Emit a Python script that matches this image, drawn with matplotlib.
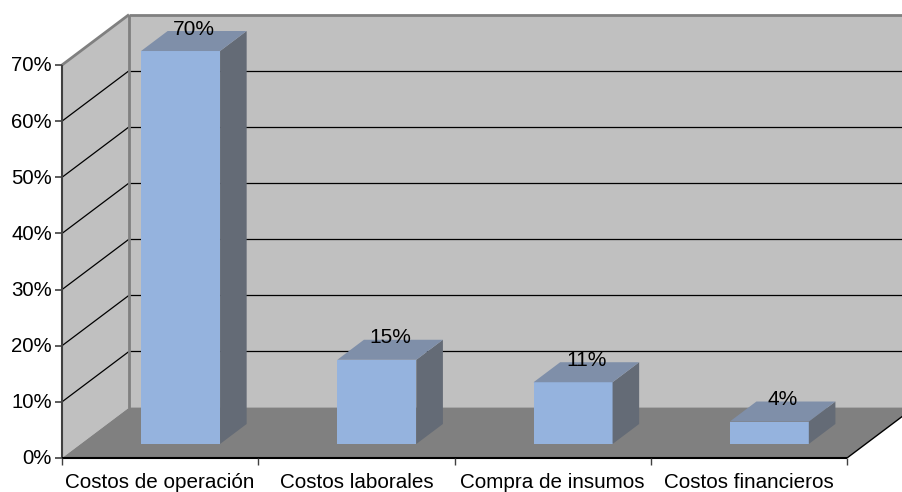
import matplotlib
matplotlib.use("Agg")
import matplotlib.pyplot as plt
from matplotlib.patches import Polygon

categories = ["Costos de operación", "Costos laborales", "Compra de insumos", "Costos financieros"]
values = [70, 15, 11, 4]
bar_labels = ["70%", "15%", "11%", "4%"]
y_ticks = [0, 10, 20, 30, 40, 50, 60, 70]

# px per unit, used for the oblique projection
W, H = 903, 492
X0, Y0 = 62, 458
CAT_PX = 196.25
PCT_PX = 5.614
DX, DY = 67, 50.4
N = len(categories)
YMAX = 70


def proj(x, y, z=0):
    # category pos, percent, depth 0..1 -> axes data coords
    return x + z * DX / CAT_PX, y + z * DY / PCT_PX


def poly(ax, pts, color, zorder=1):
    ax.add_patch(Polygon([proj(*p) for p in pts], closed=True, facecolor=color,
                         edgecolor="none", zorder=zorder))


def line(ax, p1, p2, color="black", lw=1.0, zorder=2):
    a, b = proj(*p1), proj(*p2)
    ax.plot([a[0], b[0]], [a[1], b[1]], color=color, lw=lw, zorder=zorder,
            solid_capstyle="butt")


plt.rcParams["font.family"] = ["Liberation Sans", "DejaVu Sans"]
fig = plt.figure(figsize=(W / 100, H / 100), dpi=100)
ax = fig.add_axes([0, 0, 1, 1])
ax.set_xlim(-X0 / CAT_PX, (W - X0) / CAT_PX)
ax.set_ylim((Y0 - H) / PCT_PX, Y0 / PCT_PX)
ax.axis("off")

right = N + 1
# walls and floor
poly(ax, [(0, 0, 0), (0, YMAX, 0), (0, YMAX, 1), (0, 0, 1)], "#C0C0C0")
poly(ax, [(0, 0, 1), (0, YMAX, 1), (right, YMAX, 1), (right, 0, 1)], "#C0C0C0")
poly(ax, [(0, 0, 0), (N, 0, 0), (N, 0, 1), (0, 0, 1)], "#808080")

# gridlines
for t in y_ticks[1:-1]:
    line(ax, (0, t, 0), (0, t, 1), lw=0.9)
    line(ax, (0, t, 1), (right, t, 1), lw=0.9)
line(ax, (0, YMAX, 0), (0, YMAX, 1), color="#808080", lw=2)
line(ax, (0, YMAX, 1), (right, YMAX, 1), color="#808080", lw=2)
line(ax, (0, 0, 1), (0, YMAX, 1), color="#808080", lw=2)
line(ax, (N, 0, 0), (N, 0, 1), lw=1.0)

# bars
BAR_W = 0.4025
Z_FRONT, Z_BACK = 0.278, 0.675
for i, v in enumerate(values):
    x1 = i + 0.308
    x2 = x1 + BAR_W
    poly(ax, [(x1, 0, Z_FRONT), (x2, 0, Z_FRONT), (x2, v, Z_FRONT), (x1, v, Z_FRONT)], "#95B3DE", 3)
    poly(ax, [(x2, 0, Z_FRONT), (x2, 0, Z_BACK), (x2, v, Z_BACK), (x2, v, Z_FRONT)], "#646B76", 3)
    poly(ax, [(x1, v, Z_FRONT), (x2, v, Z_FRONT), (x2, v, Z_BACK), (x1, v, Z_BACK)], "#7F8FA9", 3)
    lx, ly = proj((x1 + x2) / 2, v + 3.9, Z_FRONT)
    ax.text(lx + 13 / CAT_PX, ly, bar_labels[i], ha="center", va="center",
            fontsize=15, color="black", zorder=5)

# axis lines and ticks
ax.plot([0, 0], [0, YMAX], color="#404040", lw=1.5, zorder=4, solid_capstyle="butt")
ax.plot([0, N], [0, 0], color="black", lw=1.5, zorder=4, solid_capstyle="butt")
for t in y_ticks:
    ax.plot([-7 / CAT_PX, 0], [t, t], color="#404040", lw=1.2, zorder=4, solid_capstyle="butt")
    ax.text(-10 / CAT_PX, t - 0.15, f"{t}%", ha="right", va="center", fontsize=14.7, color="black")
for i in range(N + 1):
    ax.plot([i, i], [0, -7 / PCT_PX], color="#404040", lw=1.0, zorder=4, solid_capstyle="butt")
for i, c in enumerate(categories):
    ax.text(i + 0.5, -24.5 / PCT_PX, c, ha="center", va="center", fontsize=14.85, color="black")

fig.savefig("out.png", dpi=100)
